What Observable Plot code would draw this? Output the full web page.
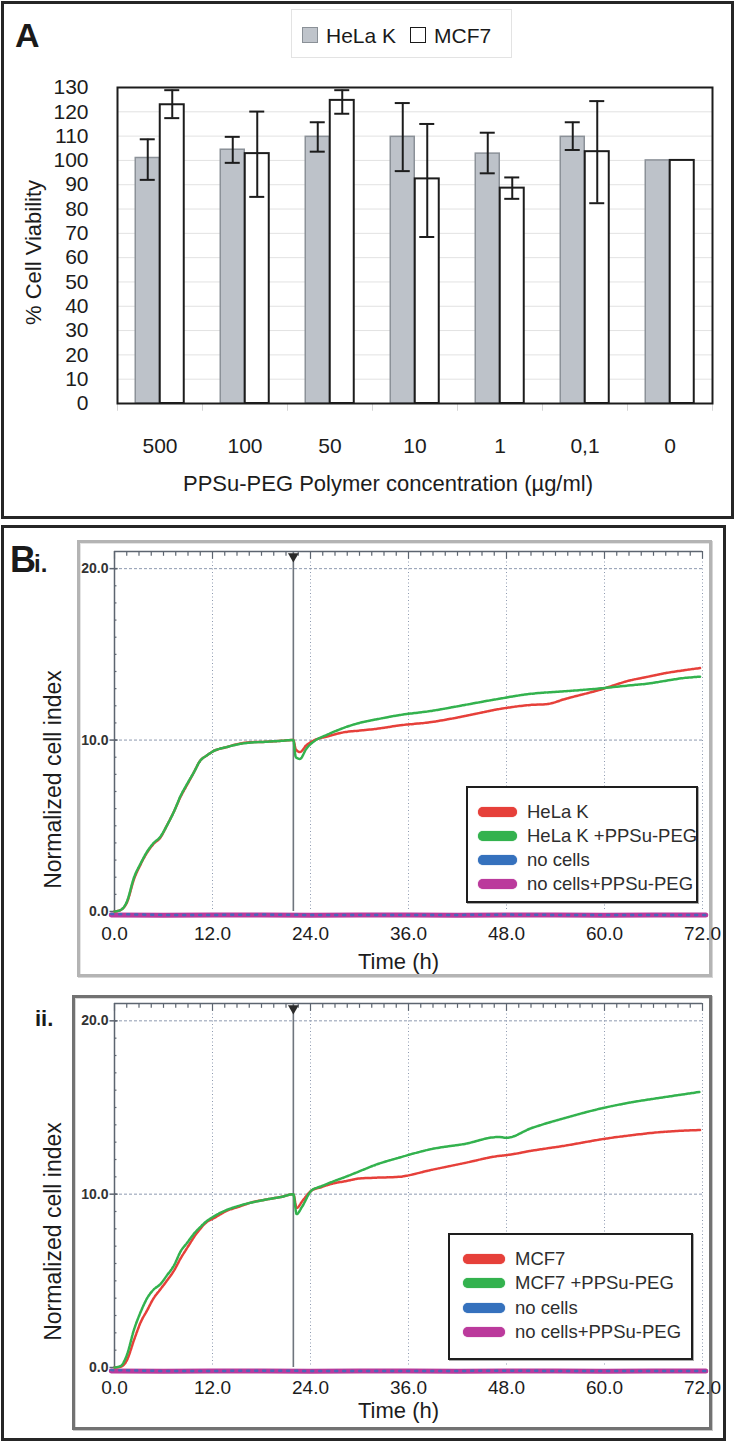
<!DOCTYPE html>
<html><head><meta charset="utf-8">
<script src="https://cdn.jsdelivr.net/npm/d3@7"></script>
<script src="https://cdn.jsdelivr.net/npm/@observablehq/plot@0.6"></script>
<style>
html,body{margin:0;padding:0;background:#fff;overflow:hidden;}
#root{position:relative;width:735px;height:1443px;font-family:"Liberation Sans",Arial,Helvetica,sans-serif;color:#1a1a1a;}
#root svg{display:block;}
</style></head><body><div id="root"></div><script>
// ---------- Panel A data ----------
const CONC = ["500","100","50","10","1","0,1","0"];
const HELA_MEAN = [101, 104.4, 109.7, 109.7, 102.8, 109.7, 100];
const HELA_LO   = [92, 99, 103.6, 95.6, 94.7, 104.3, 100];
const HELA_HI   = [108.7, 109.7, 115.7, 123.6, 111.4, 115.7, 100];
const MCF7_MEAN = [122.9, 102.8, 124.7, 92.4, 88.6, 103.6, 100];
const MCF7_LO   = [117.4, 85, 119.2, 68.5, 84.2, 82.4, 100];
const MCF7_HI   = [128.9, 120.1, 128.9, 115, 93, 124.4, 100];
const Y_TICKS_A = [0,10,20,30,40,50,60,70,80,90,100,110,120,130];
const X_TITLE_A = "PPSu-PEG Polymer concentration (µg/ml)";
const Y_TITLE_A = "% Cell Viability";

// ---------- Panel B data ----------
const X_TICKS_B = [0, 12, 24, 36, 48, 60, 72];
const Y_TICKS_B = [0, 10, 20];
const TREAT_T = 21.9;
const BI_T = [0,0.8,1.5,2.4,3.2,4.0,4.8,5.6,6.4,7.3,8.1,8.9,9.7,10.5,11.3,12.1,13.8,15.4,16.6,18.5,20.3,21.9,22.2,22.7,23.5,24.5,26,28,30,32,34.8,38.8,42.9,47,51,53,55.2,59.2,63.3,65.4,67.4,69.4,71.7];
const BI_HELA = [0,0.1,0.5,1.9,2.75,3.45,3.95,4.3,5.0,5.85,6.7,7.4,8.1,8.8,9.1,9.35,9.6,9.8,9.87,9.9,9.95,10.0,9.45,9.3,9.7,10.0,10.2,10.45,10.55,10.65,10.85,11.05,11.4,11.8,12.05,12.1,12.4,12.9,13.5,13.7,13.9,14.05,14.2];
const BI_HELA_PPSU = [0,0.1,0.55,2.0,2.8,3.5,4.0,4.35,5.0,5.85,6.75,7.45,8.1,8.8,9.1,9.35,9.6,9.78,9.85,9.9,9.95,10.0,9.0,8.9,9.5,9.95,10.3,10.7,11.0,11.2,11.45,11.7,12.05,12.4,12.7,12.78,12.85,13.0,13.2,13.3,13.45,13.6,13.7];
const BII_T = [0,0.8,1.5,2.4,3.2,4.0,4.8,5.6,6.4,7.3,8.1,8.9,9.7,10.5,11.3,12.1,13.8,15.4,16.6,18.7,20.5,21.9,22.3,23.0,24.1,25.3,26.6,28.3,29.9,32.0,34.8,38.8,42.9,47.0,48.0,51.0,55.2,60.1,63.3,67.4,71.7];
const BII_MCF7 = [0,0.05,0.4,1.6,2.6,3.3,4.0,4.5,5.0,5.6,6.3,6.9,7.5,8.0,8.4,8.6,9.05,9.3,9.5,9.7,9.85,10.0,9.2,9.6,10.2,10.4,10.6,10.75,10.9,10.95,11.0,11.4,11.8,12.2,12.25,12.5,12.8,13.2,13.4,13.6,13.7];
const BII_MCF7_PPSU = [0,0.1,0.7,2.2,3.2,4.0,4.5,4.8,5.3,5.9,6.7,7.2,7.7,8.1,8.45,8.7,9.1,9.35,9.5,9.7,9.85,10.0,8.85,9.3,10.2,10.45,10.7,11.0,11.3,11.7,12.1,12.6,12.9,13.3,13.25,13.8,14.4,15.0,15.3,15.6,15.9];
const NC_T = [-0.4, 6, 12, 18, 24, 30, 36, 42, 48, 54, 60, 66, 72.4];
const NC_V = [-0.15,-0.2,-0.2,-0.18,-0.2,-0.2,-0.2,-0.2,-0.18,-0.2,-0.2,-0.2,-0.2];
const NC_PPSU_V = [-0.2,-0.22,-0.2,-0.2,-0.22,-0.2,-0.2,-0.22,-0.2,-0.2,-0.22,-0.2,-0.2];
const LEG_BI = ["HeLa K","HeLa K +PPSu-PEG","no cells","no cells+PPSu-PEG"];
const LEG_BII = ["MCF7","MCF7 +PPSu-PEG","no cells","no cells+PPSu-PEG"];
const COLORS = ["#e6403a","#33b24e","#3571bd","#bb3a9c"];

const FONT = '"Liberation Sans", Arial, Helvetica, sans-serif';
const root = document.getElementById("root");

function el(css, text) {
  const d = document.createElement("div");
  d.style.cssText = "position:absolute;box-sizing:border-box;" + css;
  if (text != null) d.textContent = text;
  root.appendChild(d);
  return d;
}
function txt(s, x, base, size, opt = {}) {
  const w = opt.weight || "normal", c = opt.color || "#1a1a1a";
  let css = `white-space:nowrap;font-size:${size}px;line-height:${size}px;font-weight:${w};color:${c};top:${base - size * 0.8465}px;left:${x}px;`;
  return el(css, s);
}
function place(svg, top) {
  const w = el(`left:0;top:${top}px;`);
  w.appendChild(svg);
}

// ---------- Panel borders ----------
el("left:1px;top:1px;width:733px;height:518px;border:3px solid #262626;");
el("left:1px;top:525px;width:725px;height:916px;border:3px solid #262626;");

// ---------- Panel A ----------
const rowsA = CONC.flatMap((c, i) => [
  {conc: c, series: "HeLa K", mean: HELA_MEAN[i], lo: HELA_LO[i], hi: HELA_HI[i]},
  {conc: c, series: "MCF7", mean: MCF7_MEAN[i], lo: MCF7_LO[i], hi: MCF7_HI[i]}
]);
const hela = rowsA.filter(d => d.series === "HeLa K");
const mcf = rowsA.filter(d => d.series === "MCF7");
const helaErr = hela.filter(d => d.hi > d.lo);
const mcfErr = mcf.filter(d => d.hi > d.lo);
const SH = 12.25, BAR_IN = 30.5, CAP_IN = 35, HALF_BAND = 42.5;
const INK = "#1c1c1c";

const plotA = Plot.plot({
  width: 735, height: 520,
  marginLeft: 117, marginRight: 23, marginTop: 87, marginBottom: 117,
  style: `background:transparent;overflow:visible;font-family:${FONT};font-size:21px;`,
  x: {domain: CONC, padding: 0, label: null, axis: null},
  y: {domain: [0, 130], label: null, axis: null},
  marks: [
    Plot.gridY(Y_TICKS_A.filter(v => v > 0 && v < 130), {stroke: "#e2e2e2", strokeOpacity: 1}),
    Plot.ruleX(CONC, {x: d => d, y1: 0, y2: -3.2, dx: -HALF_BAND, stroke: "#d6d6d6"}),
    Plot.ruleX(CONC.slice(-1), {x: d => d, y1: 0, y2: -3.2, dx: HALF_BAND, stroke: "#d6d6d6"}),
    Plot.barY(hela, {x: "conc", y: "mean", fill: "#bdc2c9", stroke: "#8b9198", strokeWidth: 1.5, insetLeft: BAR_IN, insetRight: BAR_IN, dx: -SH}),
    Plot.barY(mcf, {x: "conc", y: "mean", fill: "#ffffff", stroke: INK, strokeWidth: 2, insetLeft: BAR_IN, insetRight: BAR_IN, dx: SH}),
    Plot.ruleX(helaErr, {x: "conc", y1: "lo", y2: "hi", stroke: INK, strokeWidth: 2, dx: -SH}),
    Plot.tickY(helaErr, {x: "conc", y: "lo", stroke: INK, strokeWidth: 2, insetLeft: CAP_IN, insetRight: CAP_IN, dx: -SH}),
    Plot.tickY(helaErr, {x: "conc", y: "hi", stroke: INK, strokeWidth: 2, insetLeft: CAP_IN, insetRight: CAP_IN, dx: -SH}),
    Plot.ruleX(mcfErr, {x: "conc", y1: "lo", y2: "hi", stroke: INK, strokeWidth: 2, dx: SH}),
    Plot.tickY(mcfErr, {x: "conc", y: "lo", stroke: INK, strokeWidth: 2, insetLeft: CAP_IN, insetRight: CAP_IN, dx: SH}),
    Plot.tickY(mcfErr, {x: "conc", y: "hi", stroke: INK, strokeWidth: 2, insetLeft: CAP_IN, insetRight: CAP_IN, dx: SH}),
    Plot.frame({stroke: INK, strokeWidth: 2}),
    Plot.text(Y_TICKS_A, {y: d => d, frameAnchor: "left", textAnchor: "end", dx: -29, fontSize: 21, fill: INK}),
    Plot.text(CONC, {x: d => d, frameAnchor: "bottom", lineAnchor: "top", dy: 35, fontSize: 21, fill: INK}),
    Plot.text([X_TITLE_A], {frameAnchor: "bottom", lineAnchor: "bottom", textAnchor: "middle", dy: 87, dx: -27, fontSize: 22, fill: INK}),
    Plot.text([Y_TITLE_A], {frameAnchor: "left", textAnchor: "middle", rotate: -90, dx: -84, dy: 7, fontSize: 22, fill: INK})
  ]
});
place(plotA, 0);

txt("A", 15, 47, 34, {weight: "bold"});
el("left:291px;top:9px;width:221px;height:49px;border:1px solid #e3e3e3;");
el("left:302px;top:27px;width:16px;height:16px;background:#bfc4cb;border:1.5px solid #8a9097;");
txt("HeLa K", 326, 43, 21);
el("left:410px;top:27px;width:16px;height:16px;background:#fff;border:1.5px solid #1a1a1a;");
txt("MCF7", 434, 43, 21);

// ---------- Panel B ----------
const TOP_TICKS = d3.range(0, 72.01, 1.5);
const LEFT_TICKS = d3.range(1, 21, 1);
function seriesRows(T, V) { return T.map((t, i) => ({t, v: V[i]})); }
const AXC = "#5d6570";

function cellPlot({height, marginTop, marginBottom, red, green, tickPad, titleDy, yTitleDy}) {
  const nc = seriesRows(NC_T, NC_V), ncp = seriesRows(NC_T, NC_PPSU_V);
  return Plot.plot({
    width: 735, height, marginLeft: 114, marginRight: 33, marginTop, marginBottom,
    style: `background:transparent;overflow:visible;font-family:${FONT};font-size:19px;`,
    x: {domain: [0, 72], label: null, axis: null},
    y: {domain: [0, 21], label: null, axis: null},
    marks: [
      Plot.gridX(X_TICKS_B.filter(v => v > 0), {stroke: "#8e9ab0", strokeOpacity: 1, strokeDasharray: "1,2.5"}),
      Plot.gridY([10, 20], {stroke: "#8e9ab0", strokeOpacity: 1, strokeDasharray: "3,2"}),
      Plot.ruleX([TREAT_T], {stroke: "#6f757d", strokeWidth: 1.6}),
      Plot.ruleY([21], {stroke: AXC, strokeWidth: 1.5}),
      Plot.ruleX(TOP_TICKS, {y1: 21, y2: d => (d % 12 === 0 ? 20.55 : 20.72), stroke: AXC, strokeWidth: 1.2}),
      Plot.ruleX([0], {stroke: AXC, strokeWidth: 1.5}),
      Plot.ruleY(LEFT_TICKS, {x1: 0, x2: 0.3, stroke: AXC, strokeWidth: 1.2}),
      Plot.ruleY(Y_TICKS_B, {x1: -0.55, x2: 0.45, stroke: AXC, strokeWidth: 1.5}),
      Plot.dot([TREAT_T], {x: d => d, y: 20.72, symbol: "triangle", rotate: 180, r: 4, fill: "#2b2b2b", stroke: "none"}),
      Plot.line(ncp, {x: "t", y: "v", stroke: COLORS[3], strokeWidth: 5}),
      Plot.line(nc, {x: "t", y: "v", stroke: COLORS[2], strokeWidth: 2.5, strokeDasharray: "2,6", strokeOpacity: 0.85}),
      Plot.line(red, {x: "t", y: "v", stroke: COLORS[0], strokeWidth: 2.5, strokeDasharray: "2.5,1.2", curve: "monotone-x"}),
      Plot.line(green, {x: "t", y: "v", stroke: COLORS[1], strokeWidth: 2.5, strokeDasharray: "2.5,1.2", curve: "monotone-x"}),
      Plot.text(Y_TICKS_B, {y: d => d, text: d => d.toFixed(1), frameAnchor: "left", textAnchor: "end", dx: -6, fontSize: 14, fontWeight: "bold", fill: "#333"}),
      Plot.text(X_TICKS_B, {x: d => d, text: d => d.toFixed(1), frameAnchor: "bottom", lineAnchor: "top", dy: tickPad, fontSize: 19, fill: INK}),
      Plot.text(["Time (h)"], {frameAnchor: "bottom", lineAnchor: "bottom", textAnchor: "middle", dy: titleDy, dx: -10, fontSize: 22, fill: INK}),
      Plot.text(["Normalized cell index"], {frameAnchor: "left", textAnchor: "middle", rotate: -90, dx: -61, dy: yTitleDy, fontSize: 23, fill: INK})
    ]
  });
}

function legend(left, top, width, height, swLeft, swW, txtLeft, centers, labels) {
  el(`left:${left}px;top:${top}px;width:${width}px;height:${height}px;border:2.5px solid #1e1e1e;background:#fff;box-shadow:1px 1px 0 #aaa;`);
  labels.forEach((s, i) => {
    el(`left:${swLeft}px;top:${centers[i] - 5}px;width:${swW}px;height:10px;border-radius:5px;background:${COLORS[i]};box-shadow:0 0 1px ${COLORS[i]};`);
    txt(s, txtLeft, centers[i] + 6.8, 18.5, {color: "#2e2e2e"});
  });
}

// Bi
el("left:77px;top:540px;width:635px;height:437px;border:3px solid #b4b4b4;box-shadow:inset 1px 1px 0 #e4e4e4, 1px 1px 0 #d6d6d6;");
place(cellPlot({height: 450, marginTop: 24, marginBottom: 66,
  red: seriesRows(BI_T, BI_HELA), green: seriesRows(BI_T, BI_HELA_PPSU),
  tickPad: 15, titleDy: 57, yTitleDy: 48}), 527);
legend(466, 786, 232, 117, 478, 39, 527, [812, 836, 860, 884], LEG_BI);

// ii
el("left:72px;top:995px;width:640px;height:435px;border:3px solid #727272;box-shadow:inset 1px 1px 0 #d8d8d8, 1px 1px 0 #c8c8c8;");
place(cellPlot({height: 450, marginTop: 18, marginBottom: 68,
  red: seriesRows(BII_T, BII_MCF7), green: seriesRows(BII_T, BII_MCF7_PPSU),
  tickPad: 12.5, titleDy: 50, yTitleDy: 46}), 985);
legend(448, 1233, 245, 127, 463, 42, 515, [1259, 1283, 1308, 1332], LEG_BII);

// panel labels
txt("B", 10, 572, 36, {weight: "bold"});
txt("i.", 34, 572, 24, {weight: "bold"});
txt("ii.", 35, 1027, 22, {weight: "bold"});
</script></body></html>
